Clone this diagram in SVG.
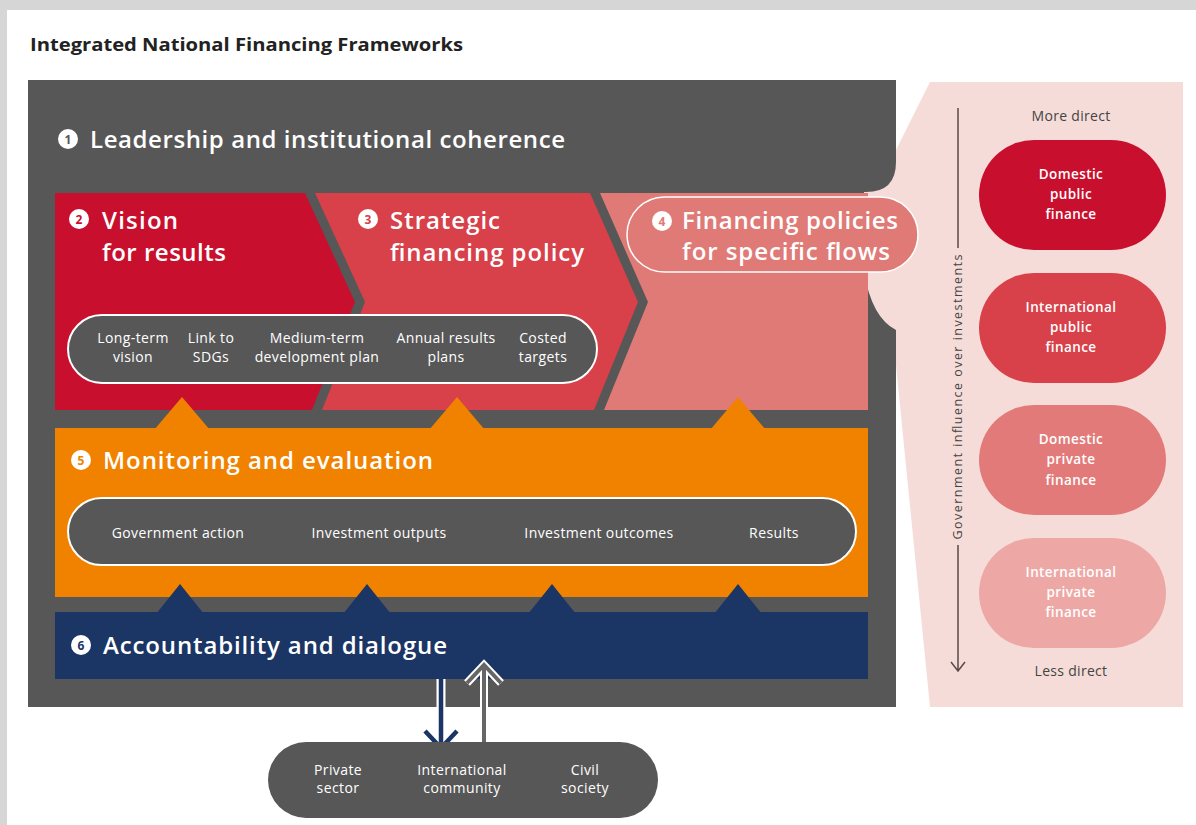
<svg xmlns="http://www.w3.org/2000/svg" width="1196" height="825" viewBox="0 0 1196 825">
<style>
text{font-family:"Open Sans","Noto Sans","Liberation Sans",sans-serif}
.h{fill:#fff;font-weight:600;font-size:24px}
.s{fill:#fff;font-size:14px;letter-spacing:0.4px;text-anchor:middle}
.r{fill:#fff;font-size:13.5px;letter-spacing:0.4px;font-weight:600;text-anchor:middle}
.g{fill:#444;font-size:14px;letter-spacing:0.3px;text-anchor:middle}
.num{font-size:12px;font-weight:700;text-anchor:middle}
.pill{fill:#575757;stroke:#fff;stroke-width:2}
</style>
<rect width="1196" height="825" fill="#d6d6d6"/>
<rect x="7" y="10" width="1189" height="815" fill="#fff"/>
<text x="30" y="51" font-size="18" font-weight="700" fill="#222" textLength="433" lengthAdjust="spacingAndGlyphs">Integrated National Financing Frameworks</text>

<g id="right-panel">
<path d="M930,82 H1183 V707 H930 L893,335 L860,290 L860,192 L896,150 Z" fill="#f6dcd8"/>
</g>

<g id="leadership">
<path d="M28,80 H896 V162 Q896,192 866,192 H864 V272 Q872,318 896,330 V707 H28 Z" fill="#575757"/>
<circle cx="68" cy="139" r="10" fill="#fff"/>
<text class="num" x="68" y="143.5" fill="#575757">1</text>
<text class="h" x="90" y="148" font-size="25" textLength="475">Leadership and institutional coherence</text>
</g>

<g id="vision">
<path d="M55,193 H305 L355,302 L312,410 H55 Z" fill="#c8102e"/>
<circle cx="79" cy="219" r="10" fill="#fff"/>
<text class="num" x="79" y="223.5" fill="#c8102e">2</text>
<text class="h" x="102" y="229" textLength="76">Vision</text>
<text class="h" x="102" y="261" textLength="124">for results</text>
</g>

<g id="strategic">
<path d="M315,193 H590 L638,302 L594,410 H322 L365,302 Z" fill="#d8404a"/>
<circle cx="368" cy="219" r="10" fill="#fff"/>
<text class="num" x="368" y="223.5" fill="#d8404a">3</text>
<text class="h" x="390" y="229" textLength="110">Strategic</text>
<text class="h" x="390" y="261" textLength="194">financing policy</text>
</g>

<g id="financing-policies">
<path d="M600,193 H868 V410 H604 L648,302 Z" fill="#e07a76"/>
<rect x="627" y="197" width="291" height="75" rx="37.5" fill="#e07a76" stroke="#fff" stroke-width="1.5"/>
<circle cx="662" cy="221" r="10" fill="#fff"/>
<text class="num" x="662" y="225.5" fill="#e07a76">4</text>
<text class="h" x="682" y="229" textLength="216">Financing policies</text>
<text class="h" x="682" y="260" textLength="208">for specific flows</text>
</g>

<g id="results-pill">
<rect class="pill" x="68" y="315" width="529" height="68" rx="34"/>
<text class="s" x="133" y="343">Long-term</text><text class="s" x="133" y="362">vision</text>
<text class="s" x="211" y="343">Link to</text><text class="s" x="211" y="362">SDGs</text>
<text class="s" x="317" y="343">Medium-term</text><text class="s" x="317" y="362">development plan</text>
<text class="s" x="446" y="343">Annual results</text><text class="s" x="446" y="362">plans</text>
<text class="s" x="543" y="343">Costed</text><text class="s" x="543" y="362">targets</text>
</g>

<g id="monitoring">
<rect x="55" y="428" width="813" height="169" fill="#f08200"/>
<circle cx="81" cy="460" r="10" fill="#fff"/>
<text class="num" x="81" y="464.5" fill="#f08200">5</text>
<text class="h" x="103" y="469" textLength="330">Monitoring and evaluation</text>
<rect class="pill" x="68" y="498" width="788" height="67" rx="33.5"/>
<text class="s" x="178" y="538">Government action</text>
<text class="s" x="379" y="538">Investment outputs</text>
<text class="s" x="599" y="538">Investment outcomes</text>
<text class="s" x="774" y="538">Results</text>
</g>

<g id="accountability">
<rect x="55" y="612" width="813" height="67" fill="#1b3565"/>
<circle cx="81" cy="645" r="10" fill="#fff"/>
<text class="num" x="81" y="649.5" fill="#1b3565">6</text>
<text class="h" x="103" y="654" textLength="344">Accountability and dialogue</text>
</g>

<g id="connectors">
<g fill="#f08200">
<polygon points="154,430 182,397 210,430"/>
<polygon points="429,430 457,397 485,430"/>
<polygon points="710,430 738,397 766,430"/>
</g>
<g fill="#1b3565">
<polygon points="156,614 180,584 204,614"/>
<polygon points="343,614 367,584 391,614"/>
<polygon points="528,614 552,584 576,614"/>
<polygon points="714,614 738,584 762,614"/>
</g>
<g fill="none" stroke-linejoin="miter">
<path d="M441,679 V747 M425,731 L441,748 L457,731" stroke="#fff" stroke-width="9"/>
<path d="M441,679 V747 M425,731 L441,748 L457,731" stroke="#1b3565" stroke-width="4.5"/>
<path d="M484,743 V666 M467,683 L484,665 L501,683" stroke="#fff" stroke-width="8"/>
<path d="M484,743 V666 M467,683 L484,665 L501,683" stroke="#666" stroke-width="4"/>
</g>
<path d="M958,108 V248 M958,545 V671 M951,662 L958,671 L965,662" fill="none" stroke="#5a4a4a" stroke-width="1.5"/>
</g>

<g id="stakeholders">
<rect x="268" y="742" width="390" height="76" rx="38" fill="#575757"/>
<text class="s" x="338" y="775">Private</text><text class="s" x="338" y="793">sector</text>
<text class="s" x="462" y="775">International</text><text class="s" x="462" y="793">community</text>
<text class="s" x="585" y="775">Civil</text><text class="s" x="585" y="793">society</text>
</g>

<g id="influence-axis">
<text x="0" y="0" transform="translate(962,397) rotate(-90)" font-size="12.5" fill="#444" text-anchor="middle" textLength="285">Government influence over investments</text>
<text class="g" x="1071" y="121">More direct</text>
<text class="g" x="1071" y="676">Less direct</text>
</g>

<g id="domestic-public">
<rect x="979" y="140" width="187" height="110" rx="55" fill="#c8102e"/>
<text class="r" x="1071" y="179">Domestic</text><text class="r" x="1071" y="199">public</text><text class="r" x="1071" y="219">finance</text>
</g>
<g id="international-public">
<rect x="979" y="273" width="187" height="110" rx="55" fill="#d8404a"/>
<text class="r" x="1071" y="312">International</text><text class="r" x="1071" y="332">public</text><text class="r" x="1071" y="352">finance</text>
</g>
<g id="domestic-private">
<rect x="979" y="405" width="187" height="110" rx="55" fill="#e37a7a"/>
<text class="r" x="1071" y="444">Domestic</text><text class="r" x="1071" y="464">private</text><text class="r" x="1071" y="485">finance</text>
</g>
<g id="international-private">
<rect x="979" y="538" width="187" height="110" rx="55" fill="#eda8a6"/>
<text class="r" x="1071" y="577">International</text><text class="r" x="1071" y="597">private</text><text class="r" x="1071" y="617">finance</text>
</g>
</svg>
